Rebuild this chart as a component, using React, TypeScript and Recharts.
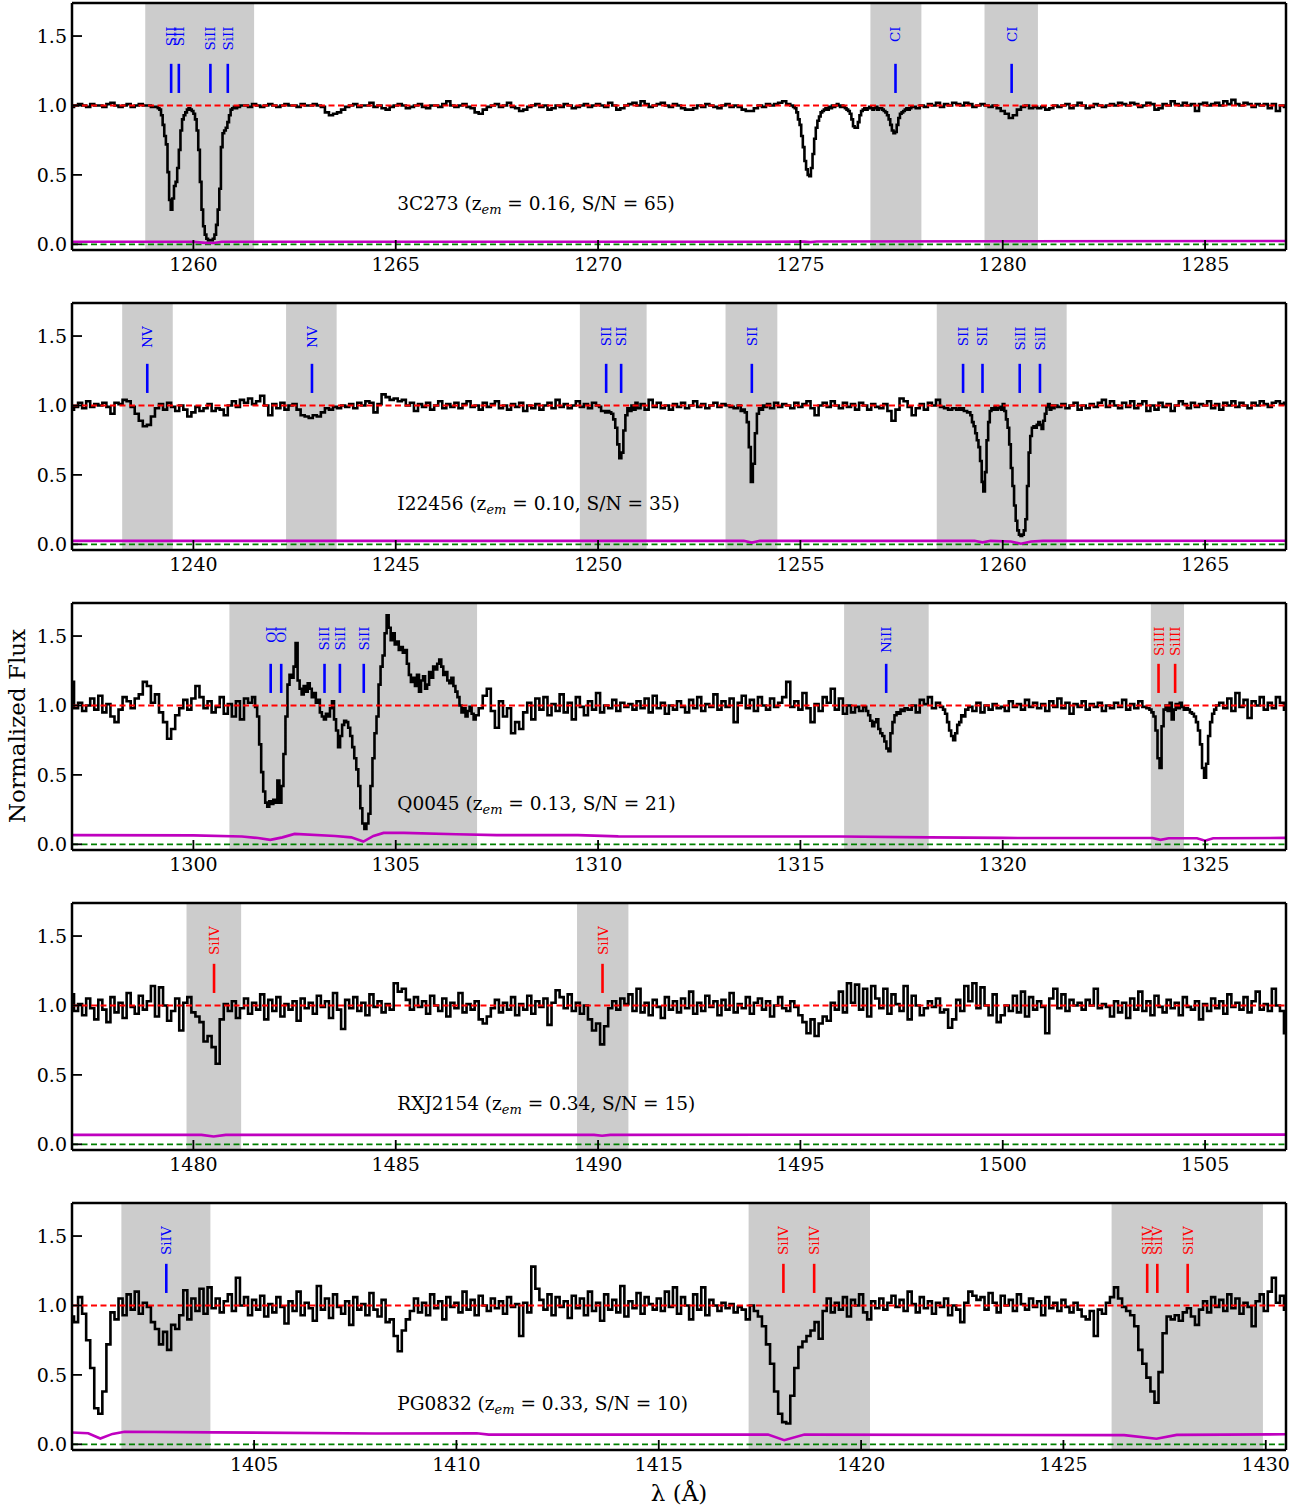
import React from "react";
import { ComposedChart, Line, XAxis, YAxis, ReferenceArea, ReferenceLine, ReferenceDot } from "recharts";

type Seg = { start: number; step: number; flux: number[] };
type Mark = { x: number; label: string; color: string };
type ErrPt = [number, number];

// ---------------- Panel 1 : 3C273 ----------------
const p1Name = "3C273", p1Z = "0.16", p1SN = "65";
const p1Domain: [number, number] = [1257, 1287];
const p1Ticks = [1260, 1265, 1270, 1275, 1280, 1285];
const p1Bands: [number, number][] = [[1258.81, 1261.5], [1276.73, 1277.99], [1279.55, 1280.87]];
const p1Marks: Mark[] = [
  { x: 1259.45, label: "SII", color: "#0000ff" }, { x: 1259.64, label: "SII", color: "#0000ff" },
  { x: 1260.42, label: "SiII", color: "#0000ff" }, { x: 1260.85, label: "SiII", color: "#0000ff" },
  { x: 1277.35, label: "CI", color: "#0000ff" }, { x: 1280.22, label: "CI", color: "#0000ff" },
];
const p1A: Seg = { start: 1257.0, step: 0.1, flux: [0.99,1.00,1.01,1.00,0.99,1.01,1.00,1.00,0.99,1.01,1.02,1.00,0.99,1.00,1.01,0.99,1.00,1.01,1.00,1.00,0.99] };
const p1B: Seg = { start: 1259.1, step: 0.04, flux: [0.99,0.98,0.97,0.93,0.86,0.78,0.72,0.52,0.32,0.25,0.33,0.42,0.45,0.55,0.68,0.82,0.90,0.93,0.95,0.97,0.98,0.97,0.96,0.94,0.90,0.82,0.68,0.45,0.25,0.13,0.07,0.04,0.03,0.03,0.03,0.04,0.07,0.14,0.25,0.40,0.70,0.80,0.82,0.84,0.88,0.93,0.97,0.98,0.99,0.98] };
const p1C: Seg = { start: 1261.1, step: 0.1, flux: [
  0.99,1.00,1.00,0.99,1.01,1.00,0.99,1.00,1.01,1.00,0.99,1.00,1.01,1.00,1.00,0.99,1.01,1.00,1.00,1.01,1.00,0.99,
  0.95,0.93,0.94,0.95,0.97,0.99,
  1.00,1.01,0.99,1.00,1.00,1.02,0.99,1.00,0.98,0.97,0.99,1.00,1.01,1.00,0.98,0.99,1.00,1.01,0.99,0.98,1.00,1.00,0.99,1.01,1.03,1.00,0.99,1.00,1.01,0.99,0.98,
  0.95,0.94,0.97,
  0.99,1.00,1.01,0.99,1.00,1.02,0.99,0.98,0.96,0.97,0.99,1.00,1.01,0.99,1.00,0.97,0.98,1.00,0.99,1.01,1.00,0.98,0.99,1.00,1.01,0.99,1.00,1.01,1.00,0.99,1.02,1.00,0.97,0.98,1.00,1.01,1.02,1.00,1.03,1.01,0.99,1.00,1.01,1.02,1.00,0.99,1.01,1.00,0.98,0.97,0.97,0.98,1.00,0.99,1.01,1.00,0.99,0.98,1.00,1.01,0.99,1.00,0.99,0.97,0.96,0.96,0.98,1.00,0.99,1.01,1.00,1.01,1.02,1.03,1.01] };
const p1D: Seg = { start: 1274.8, step: 0.04, flux: [
  1.00,0.99,0.98,0.95,0.90,
  0.86,0.78,0.70,0.60,0.54,0.50,0.49,0.55,0.65,0.76,0.84,0.89,0.92,0.95,0.96,0.97,0.98,0.97,0.99,0.98,1.00,0.99,1.00,1.01,1.00,
  0.99,1.00,0.99,0.98,0.97,0.96,0.94,0.90,0.85,0.84,0.84,0.88,0.93,0.96,0.97,0.98,0.97,0.98,0.99,0.98,0.97,0.98,0.99,0.97,0.98,
  0.98,0.97,0.96,0.95,0.93,0.90,0.86,0.82,0.80,0.81,0.86,0.91,0.94,0.95,0.96,0.97,0.98,0.97,0.98,0.99] };
const p1E: Seg = { start: 1277.8, step: 0.1, flux: [
  0.99,0.98,1.00,0.99,1.01,1.00,1.02,0.99,1.01,1.00,1.02,1.01,1.00,1.02,1.01,0.99,1.00,1.01,1.00,0.99,1.00,0.98,0.96,0.94,0.91,0.93,0.97,0.99,1.00,0.98,
  0.99,0.98,0.99,0.97,0.98,1.00,0.99,1.00,1.01,0.98,1.00,1.02,1.00,0.98,0.99,1.01,1.00,0.99,1.00,1.01,1.00,1.02,1.01,1.00,1.02,1.01,0.99,1.00,1.02,1.01,
  0.97,0.98,1.01,1.00,1.03,1.01,1.00,1.02,1.00,1.01,0.96,1.01,1.02,1.00,1.01,1.02,1.00,1.03,1.01,1.04,1.01,1.00,1.02,1.01,0.99,1.01,1.00,1.01,0.98,1.01,0.96,1.00,0.99] };
const p1Err: ErrPt[] = [[1257, 0.018], [1260.0, 0.018], [1260.3, 0.01], [1260.5, 0.01], [1260.7, 0.018], [1275.1, 0.019], [1275.25, 0.016], [1275.4, 0.02], [1287, 0.024]];

// ---------------- Panel 2 : I22456 ----------------
const p2Name = "I22456", p2Z = "0.10", p2SN = "35";
const p2Domain: [number, number] = [1237, 1267];
const p2Ticks = [1240, 1245, 1250, 1255, 1260, 1265];
const p2Bands: [number, number][] = [[1238.24, 1239.49], [1242.29, 1243.54], [1249.55, 1251.2], [1253.15, 1254.43], [1258.37, 1261.58]];
const p2Marks: Mark[] = [
  { x: 1238.86, label: "NV", color: "#0000ff" }, { x: 1242.93, label: "NV", color: "#0000ff" },
  { x: 1250.2, label: "SII", color: "#0000ff" }, { x: 1250.57, label: "SII", color: "#0000ff" },
  { x: 1253.8, label: "SII", color: "#0000ff" }, { x: 1259.02, label: "SII", color: "#0000ff" },
  { x: 1259.5, label: "SII", color: "#0000ff" }, { x: 1260.42, label: "SiII", color: "#0000ff" },
  { x: 1260.92, label: "SiII", color: "#0000ff" },
];
const p2A: Seg = { start: 1237.0, step: 0.1, flux: [
  0.97,0.99,1.02,0.98,1.03,0.99,1.01,1.00,1.02,0.99,
  0.94,1.02,1.01,1.04,1.03,0.99,0.94,0.89,0.85,0.86,
  0.92,0.98,1.01,0.97,1.02,0.99,0.96,1.00,0.97,0.92,
  0.95,0.99,0.96,0.98,1.01,0.96,0.98,0.97,0.93,1.00,
  1.03,0.99,1.04,1.02,1.05,1.01,1.03,1.07,1.00,0.93,
  1.01,0.98,1.02,0.97,1.00,1.01,0.97,0.93,0.92,0.91,
  0.93,0.92,0.95,0.98,0.97,0.99,0.98,1.00,0.99,1.01,
  0.98,1.02,1.00,1.03,1.02,0.95,1.01,1.08,1.06,1.04,
  1.05,1.03,1.04,1.00,1.02,0.96,1.01,0.99,1.02,0.97,
  1.00,1.03,0.98,1.01,0.99,1.02,0.98,1.01,1.03,0.99,
  1.00,0.97,1.02,0.99,1.01,1.03,0.98,1.00,0.97,1.01,
  0.99,1.02,0.96,1.00,0.98,1.01,0.97,1.00,1.02,0.98,
  1.04,0.99,1.01,0.98,1.00,1.03,0.99,1.01,0.98,1.02,
  1.00] };
const p2B: Seg = { start: 1250.05, step: 0.05, flux: [0.99,0.96,0.96,0.95,0.96,0.95,0.94,0.90,0.84,0.72,0.62,0.66,0.82,0.93,0.98,0.96,1.00,0.97,1.02] };
const p2C: Seg = { start: 1251.0, step: 0.1, flux: [0.98,1.01,0.97,1.04,0.99,1.02,0.98,1.00,0.97,1.01,0.99,1.02,0.98,1.00,1.03,0.99,1.01,0.98,1.00,1.02,0.99,1.01,1.00,0.99,0.98,1.00] };
const p2D: Seg = { start: 1253.55, step: 0.05, flux: [0.96,0.97,0.95,0.88,0.70,0.45,0.58,0.80,0.94,0.98,0.97,1.00,0.99] };
const p2E: Seg = { start: 1254.2, step: 0.1, flux: [
  1.01,0.98,1.02,0.99,1.01,1.00,0.98,1.02,
  0.99,1.01,1.03,0.98,0.93,1.00,1.02,0.99,1.03,1.00,
  0.98,1.02,0.99,1.01,0.97,1.02,1.00,0.97,1.01,0.99,
  0.98,1.01,0.96,0.89,0.97,1.05,1.03,0.99,0.93,0.98,
  1.01,0.97,1.02,1.00,1.04,0.99,0.98,0.97,0.98,0.97] };
const p2F: Seg = { start: 1258.94, step: 0.04, flux: [
  0.98,0.97,
  0.98,0.96,0.96,0.95,0.95,0.93,0.88,0.85,0.80,0.75,0.70,0.60,0.45,0.38,0.52,0.75,0.88,0.96,0.98,0.97,0.99,0.97,0.98,0.99,0.97,
  1.01,0.96,0.90,0.84,0.72,0.55,0.42,0.28,0.17,0.10,0.07,0.06,0.07,0.10,0.18,0.42,0.66,0.78,0.84,0.85,0.84,0.86,0.88,0.86,0.83,
  0.89,0.94,0.99,1.01,0.97,1.00,0.98,1.00] };
const p2G: Seg = { start: 1261.4, step: 0.1, flux: [
  0.99,1.01,0.98,1.00,1.02,0.97,
  1.00,0.98,1.01,0.99,1.02,1.04,0.99,1.03,1.00,0.98,
  1.02,0.99,1.03,0.98,1.01,1.03,0.96,1.00,0.97,1.02,
  0.99,1.01,0.96,1.00,1.03,1.01,0.98,1.02,0.99,1.01,
  1.00,1.03,0.98,1.01,0.97,1.02,1.00,1.03,0.99,1.02,
  1.00,0.98,1.02,1.00,1.03,1.01,0.99,1.02,1.03,1.01,
  1.02] };
const p2Err: ErrPt[] = [[1237, 0.025], [1253.6, 0.025], [1253.8, 0.012], [1254.0, 0.025], [1259.3, 0.025], [1259.5, 0.014], [1259.7, 0.025], [1260.2, 0.02], [1260.45, 0.004], [1260.7, 0.02], [1261.0, 0.025], [1267, 0.026]];

// ---------------- Panel 3 : Q0045 ----------------
const p3Name = "Q0045", p3Z = "0.13", p3SN = "21";
const p3Domain: [number, number] = [1297, 1327];
const p3Ticks = [1300, 1305, 1310, 1315, 1320, 1325];
const p3Bands: [number, number][] = [[1300.89, 1307.01], [1316.08, 1318.17], [1323.66, 1324.48]];
const p3Marks: Mark[] = [
  { x: 1301.91, label: "OI", color: "#0000ff" }, { x: 1302.17, label: "OI", color: "#0000ff" },
  { x: 1303.24, label: "SiII", color: "#0000ff" }, { x: 1303.62, label: "SiII", color: "#0000ff" },
  { x: 1304.21, label: "SiII", color: "#0000ff" }, { x: 1317.12, label: "NiII", color: "#0000ff" },
  { x: 1323.85, label: "SiIII", color: "#ff0000" }, { x: 1324.26, label: "SiIII", color: "#ff0000" },
];
const p3A: Seg = { start: 1297.0, step: 0.1, flux: [
  1.17,0.98,1.02,0.96,1.00,1.05,0.97,1.07,0.95,1.01,
  0.92,0.88,0.97,1.06,1.03,0.98,1.05,1.08,1.17,1.14,
  1.02,1.08,0.95,0.88,0.76,0.83,0.93,0.98,1.04,0.97,
  1.05,1.14,1.06,0.98,1.03,0.95,0.99,1.06,0.94,1.01,
  0.92,1.03,0.90,1.05,1.02,1.06] };
const p3B: Seg = { start: 1301.55, step: 0.05, flux: [
  0.99,0.92,0.72,0.52,0.38,0.30,0.27,0.31,0.29,
  0.32,0.30,0.46,0.30,0.42,0.65,0.92,1.15,1.22,1.20,1.28,1.45,1.18,1.12,1.08,1.14,1.10,1.16,1.12,1.06,
  1.09,1.02,1.04,0.95,0.92,0.90,0.94,0.92,0.98,1.03,0.90,0.82,0.70,0.78,0.86,0.89,0.88,0.84,0.78,0.70,
  0.62,0.54,0.42,0.26,0.15,0.11,0.15,0.22,0.42,0.62,0.80,0.92,1.15,1.28,1.36,1.52,1.65,1.56,1.47,1.52,
  1.44,1.46,1.40,1.42,1.38,1.40,1.30,1.22,1.17,1.20,1.14,1.22,1.10,1.18,1.21,1.12,1.15,1.24,1.20,1.28,
  1.26,1.30,1.33,1.28,1.22,1.24,1.18,1.16,1.20,1.14,1.10,1.06,1.00,0.95,0.98,0.92,0.96,0.99,0.94,0.90,
  0.93] };
const p3C: Seg = { start: 1307.1, step: 0.1, flux: [
  0.98,1.07,1.12,0.96,0.84,1.03,0.92,0.98,0.80,
  0.88,0.83,0.95,1.02,0.90,1.05,0.97,1.06,0.93,1.01,
  0.96,1.08,0.95,1.02,0.90,1.06,0.99,0.93,1.03,0.97,
  1.09,0.95,1.00,0.98,1.04,0.96,1.02,0.99,1.01,0.97,
  1.03,0.98,1.05,0.95,1.07,0.98,1.02,0.94,1.00,0.97,
  1.03,0.99,0.95,1.04,0.98,1.06,0.96,1.01,0.99,1.08,
  0.97,1.03,0.99,1.05,0.88,1.02,1.07,0.98,1.04,0.96,
  1.06,1.00,0.97,1.05,0.99,1.02,1.06,1.17,0.99,1.03,
  0.97,1.09,0.98,0.88,1.01,0.96,1.06,1.02,1.12,0.97,
  1.05,0.94,1.00,0.95,0.99,0.96,0.99] };
const p3D: Seg = { start: 1316.65, step: 0.05, flux: [0.96,0.93,0.89,0.85,0.88,0.90,0.83,0.80,0.78,0.74,0.69,0.67,0.80,0.88,0.93,0.95,0.94,0.97,0.96,0.98] };
const p3E: Seg = { start: 1317.7, step: 0.1, flux: [0.97,1.00,0.95,1.04,1.01,1.06,0.98,1.02,0.99] };
const p3F: Seg = { start: 1318.55, step: 0.05, flux: [0.97,0.94,0.88,0.82,0.78,0.75,0.80,0.86,0.88,0.93,0.92,0.97] };
const p3G: Seg = { start: 1319.2, step: 0.1, flux: [
  0.99,0.96,1.02,0.95,1.00,0.97,1.01,0.98,
  0.99,0.96,1.03,0.99,1.01,0.97,1.04,0.99,1.02,0.98,
  1.01,0.96,1.03,0.99,1.05,0.98,1.02,0.94,1.01,0.99,
  1.03,0.97,1.01,0.99,1.02,0.96,1.00,0.98,1.02,0.99,
  1.04,0.97,1.01,0.98,1.03,0.99,0.98] };
const p3H: Seg = { start: 1323.65, step: 0.05, flux: [
  0.97,0.95,0.92,0.82,0.62,0.55,0.85,
  0.97,1.00,0.96,1.02,0.90,0.97,1.01,0.98,1.02,0.99,0.97,0.98,0.97,0.95,0.94,0.92,0.88,0.82,0.72,0.55,
  0.48,0.58,0.78,0.88,0.94,0.97,1.00] };
const p3I: Seg = { start: 1325.4, step: 0.1, flux: [1.02,0.98,1.05,0.96,1.09,0.99,1.04,0.91,1.03,1.00,1.06,0.97,1.02,0.98,1.06,1.02,0.97] };
const p3Err: ErrPt[] = [[1297, 0.066], [1300, 0.064], [1301.2, 0.056], [1301.6, 0.045], [1301.9, 0.032], [1302.2, 0.05], [1302.5, 0.075], [1303.5, 0.06], [1303.9, 0.05], [1304.2, 0.02], [1304.45, 0.06], [1304.7, 0.082], [1305.2, 0.082], [1306.5, 0.072], [1307.5, 0.066], [1309.5, 0.066], [1310.5, 0.057], [1316, 0.056], [1318.2, 0.05], [1320, 0.046], [1323.7, 0.045], [1323.9, 0.032], [1324.1, 0.044], [1324.8, 0.044], [1325.0, 0.026], [1325.2, 0.044], [1327, 0.046]];

// ---------------- Panel 4 : RXJ2154 ----------------
const p4Name = "RXJ2154", p4Z = "0.34", p4SN = "15";
const p4Domain: [number, number] = [1477, 1507];
const p4Ticks = [1480, 1485, 1490, 1495, 1500, 1505];
const p4Bands: [number, number][] = [[1479.83, 1481.18], [1489.48, 1490.75]];
const p4Marks: Mark[] = [
  { x: 1480.51, label: "SiIV", color: "#ff0000" }, { x: 1490.11, label: "SiIV", color: "#ff0000" },
];
const p4A: Seg = { start: 1477.0, step: 0.1, flux: [
  1.08,0.96,1.01,0.93,1.05,0.98,0.90,1.04,0.97,0.88,
  1.06,0.95,1.02,0.91,1.09,0.99,0.94,1.07,0.97,1.03,
  1.14,0.92,1.13,1.00,0.89,0.96,1.05,0.82,1.02,1.06,
  0.95,0.92,0.88,0.74,0.78,0.70,0.58,0.90,1.01,0.96,
  1.03,0.91,0.98,1.05,0.94,1.02,0.97,1.08,0.90,1.04,
  0.96,1.06,0.92,1.01,0.97,1.03,0.89,1.05,0.98,1.02,
  0.94,1.07,0.99,1.03,0.91,1.09,0.97,0.83,1.04,0.98,
  1.06,0.96,1.02,0.93,1.08,0.99,1.03,0.95,1.01,0.97,
  1.16,1.10,1.12,1.04,0.97,1.06,0.99,1.03,0.94,1.07,
  1.00,0.96,1.05,0.92,1.02,0.98,1.09,0.95,1.01,0.97,
  1.03,0.90,0.87,0.92,0.98,1.04,0.95,1.02,0.97,1.06,
  0.93,1.01,0.97,1.07,0.94,1.03,0.99,1.05,0.86,1.02,
  1.11,1.06,0.98,1.08,0.96,1.02,0.94,1.00,0.90,0.82,
  0.87,0.72,0.85,0.98,1.03,0.97,1.05,1.01,1.08,0.96,
  1.12,0.95,1.02,0.93,1.04,0.99,0.91,1.06,0.97,1.03,
  0.95,1.05,0.98,1.10,0.94,1.02,0.96,1.07,0.99,1.03,
  0.93,1.04,0.97,1.09,0.95,1.01,0.98,1.06,0.94,1.02,
  1.05,0.97,1.03,0.92,1.00,1.06,0.98,0.96,1.03,0.99,
  0.93,0.88,0.80,0.90,0.78,0.87,0.92,0.89,1.02,0.97,
  1.10,0.95,1.16,1.02,1.15,0.97,1.12,0.92,1.14,1.05,
  0.98,1.12,0.94,1.08,1.01,0.96,1.14,0.90,1.07,1.00,
  0.93,0.98,1.03,0.99,1.05,0.95,0.97,0.84,0.90,1.04,
  0.96,1.14,1.03,1.16,0.98,1.13,1.00,0.93,1.08,0.88,
  0.93,1.00,0.96,1.07,0.95,1.10,0.92,1.06,0.97,1.03,
  0.99,0.80,1.05,1.12,0.98,1.08,0.96,1.04,1.00,1.02,
  0.97,1.04,1.00,1.12,0.98,1.01,0.99,0.92,1.03,0.95,
  1.02,0.91,1.05,0.97,1.10,0.96,1.03,0.93,1.07,0.99,
  0.95,1.04,0.98,1.02,0.93,1.06,0.99,0.97,1.03,0.90,
  1.01,0.96,1.05,0.98,1.03,0.94,1.08,0.99,1.02,0.97,
  1.06,0.95,1.03,1.10,0.97,1.01,0.96,1.12,1.00,0.96,
  0.80] };
const p4Err: ErrPt[] = [[1477, 0.068], [1480.2, 0.068], [1480.5, 0.056], [1480.8, 0.068], [1489.9, 0.068], [1490.1, 0.062], [1490.3, 0.068], [1507, 0.07]];

// ---------------- Panel 5 : PG0832 ----------------
const p5Name = "PG0832", p5Z = "0.33", p5SN = "10";
const p5Domain: [number, number] = [1400.5, 1430.5];
const p5Ticks = [1405, 1410, 1415, 1420, 1425, 1430];
const p5Bands: [number, number][] = [[1401.72, 1403.92], [1417.22, 1420.22], [1426.19, 1429.93]];
const p5Marks: Mark[] = [
  { x: 1402.83, label: "SiIV", color: "#0000ff" },
  { x: 1418.08, label: "SiIV", color: "#ff0000" }, { x: 1418.84, label: "SiIV", color: "#ff0000" },
  { x: 1427.07, label: "SiIV", color: "#ff0000" }, { x: 1427.32, label: "SiIV", color: "#ff0000" },
  { x: 1428.07, label: "SiIV", color: "#ff0000" },
];
const p5A: Seg = { start: 1400.5, step: 0.1, flux: [
  0.92,0.88,1.06,0.94,0.75,
  0.55,0.26,0.22,0.38,0.72,0.95,0.90,1.05,0.93,1.08,
  0.97,1.10,0.94,1.02,0.99,0.88,0.83,0.72,0.81,0.68,
  0.86,0.83,0.93,1.11,0.90,1.05,0.96,1.12,0.94,1.13,
  0.98,1.05,0.95,1.03,1.08,0.96,1.20,1.00,1.06,0.93,
  1.04,0.97,1.07,0.92,1.01,0.95,1.06,0.99,0.87,1.03,
  0.96,1.10,0.93,1.02,0.98,0.89,1.14,0.97,1.05,0.91,
  1.08,0.99,0.94,1.03,0.86,1.06,0.97,1.01,0.93,1.09,
  0.97,0.92,1.04,0.88,0.90,0.78,0.67,0.82,0.90,0.96,
  1.05,0.95,1.02,0.93,1.08,0.98,1.03,0.90,1.06,0.99,
  1.02,0.95,1.10,0.97,1.04,0.93,1.07,1.00,0.96,1.05,
  0.98,1.03,0.94,1.06,0.99,1.01,0.78,1.02,0.95,1.28,
  1.12,1.04,0.97,1.08,0.93,1.06,0.99,1.03,0.91,1.07,
  0.98,1.05,0.93,1.10,0.96,1.02,0.89,1.08,0.97,1.04,
  0.95,1.14,0.92,1.03,0.98,1.09,0.94,1.06,1.01,0.97,
  1.05,0.96,1.10,0.99,1.13,0.94,1.06,1.00,0.90,1.08,
  0.97,1.13,0.93,1.04,1.00,0.96,1.02,0.98,1.01,0.95,
  0.99,0.97,0.90,1.00,0.96,0.92,0.85,0.72,0.58,0.38,
  0.22,0.16,0.15,0.35,0.55,0.70,0.74,0.78,0.82,0.88,
  0.76,0.96,1.05,0.95,1.02,0.97,1.06,0.92,1.04,1.00,
  1.08,0.95,0.90,1.03,0.98,1.05,0.97,1.02,1.07,0.99,
  1.04,0.96,1.10,1.01,0.95,1.06,0.98,1.03,0.94,1.02,
  0.99,1.05,0.93,1.00,0.97,0.88,1.02,1.10,1.07,1.04,
  1.06,0.97,1.09,1.02,0.95,1.07,1.00,1.04,0.96,1.08,
  1.01,0.97,1.05,0.99,1.03,0.93,1.06,0.98,1.02,0.96,
  1.04,0.99,0.95,1.02,0.97,0.92,0.90,0.96,0.78,0.97,
  0.94,1.02,1.06,1.13,1.05,0.99,0.96,0.93,0.85,0.68,
  0.58,0.48,0.38,0.30,0.52,0.80,0.92,0.90,0.93,0.89,
  0.95,0.98,0.92,0.86,0.97,1.03,0.95,1.06,0.99,1.04,
  0.96,1.08,0.98,1.05,0.94,1.02,0.99,0.85,1.03,1.08,
  0.96,1.10,1.20,1.02,1.07,0.97] };
const p5Err: ErrPt[] = [[1400.5, 0.085], [1400.9, 0.08], [1401.2, 0.042], [1401.5, 0.075], [1401.8, 0.09], [1404, 0.086], [1408, 0.078], [1410.5, 0.08], [1410.8, 0.07], [1417.7, 0.07], [1418.1, 0.03], [1418.6, 0.07], [1426.5, 0.066], [1427.3, 0.04], [1427.8, 0.068], [1430.5, 0.072]];

// ---------------- chart ----------------
const FONT = "'DejaVu Serif', serif";
const Y_DOMAIN: [number, number] = [-0.041, 1.738];
const Y_TICKS = [0, 0.5, 1.0, 1.5];

function expand(segs: Seg[]) {
  const out: { x: number; f: number }[] = [];
  segs.forEach((s) => s.flux.forEach((f, i) => out.push({ x: Math.round((s.start + i * s.step) * 1000) / 1000, f })));
  return out;
}

type PanelCfg = {
  name: string; z: string; sn: string; domain: [number, number]; ticks: number[];
  bands: [number, number][]; marks: Mark[]; segs: Seg[]; err: ErrPt[];
};

const panels: PanelCfg[] = [
  { name: p1Name, z: p1Z, sn: p1SN, domain: p1Domain, ticks: p1Ticks, bands: p1Bands, marks: p1Marks, segs: [p1A, p1B, p1C, p1D, p1E], err: p1Err },
  { name: p2Name, z: p2Z, sn: p2SN, domain: p2Domain, ticks: p2Ticks, bands: p2Bands, marks: p2Marks, segs: [p2A, p2B, p2C, p2D, p2E, p2F, p2G], err: p2Err },
  { name: p3Name, z: p3Z, sn: p3SN, domain: p3Domain, ticks: p3Ticks, bands: p3Bands, marks: p3Marks, segs: [p3A, p3B, p3C, p3D, p3E, p3F, p3G, p3H, p3I], err: p3Err },
  { name: p4Name, z: p4Z, sn: p4SN, domain: p4Domain, ticks: p4Ticks, bands: p4Bands, marks: p4Marks, segs: [p4A], err: p4Err },
  { name: p5Name, z: p5Z, sn: p5SN, domain: p5Domain, ticks: p5Ticks, bands: p5Bands, marks: p5Marks, segs: [p5A], err: p5Err },
];

const axisLine = { stroke: "#000", strokeWidth: 2.5 };
const tickLine = { stroke: "#000", strokeWidth: 1.8 };
const tickStyle = { fontFamily: FONT, fontSize: 19, fill: "#000" };

function Panel({ cfg }: { cfg: PanelCfg }) {
  const flux = expand(cfg.segs);
  const err = cfg.err.map(([x, e]) => ({ x, e }));
  const textX = cfg.domain[0] + 0.268 * (cfg.domain[1] - cfg.domain[0]);
  return (
    <ComposedChart width={1312} height={300} margin={{ top: 2, right: 25, bottom: 0, left: 0 }}>
      <XAxis xAxisId={0} dataKey="x" type="number" domain={cfg.domain} allowDataOverflow ticks={cfg.ticks}
        orientation="bottom" height={50} axisLine={axisLine} tickLine={tickLine} tickSize={-10} tickMargin={18}
        tick={tickStyle} interval={0} />
      <XAxis xAxisId="top" dataKey="x" type="number" domain={cfg.domain} allowDataOverflow ticks={cfg.ticks}
        orientation="top" height={1} axisLine={axisLine} tickLine={tickLine} tickSize={-10} tick={false} interval={0} />
      <YAxis yAxisId={0} type="number" domain={Y_DOMAIN} allowDataOverflow ticks={Y_TICKS} width={72}
        axisLine={axisLine} tickLine={tickLine} tickSize={-10} tickMargin={15} interval={0}
        tick={tickStyle} tickFormatter={(v: number) => v.toFixed(1)} />
      <YAxis yAxisId="r" orientation="right" type="number" domain={Y_DOMAIN} allowDataOverflow ticks={Y_TICKS} width={1}
        axisLine={axisLine} tickLine={tickLine} tickSize={-10} tick={false} interval={0} />
      {cfg.bands.map(([a, b], i) => (
        <ReferenceArea key={"b" + i} x1={a} x2={b} y1={Y_DOMAIN[0]} y2={Y_DOMAIN[1]} fill="#cccccc" fillOpacity={1} stroke="none" ifOverflow="hidden" />
      ))}
      <ReferenceLine y={0} stroke="#008000" strokeWidth={1.8} strokeDasharray="6 3.5" />
      <Line data={err} dataKey="e" type="linear" stroke="#bf00bf" strokeWidth={2.6} dot={false} isAnimationActive={false} />
      <Line data={flux} dataKey="f" type="step" stroke="#000" strokeWidth={2.6} dot={false} isAnimationActive={false} />
      <ReferenceLine y={1} stroke="#ff0000" strokeWidth={2} strokeDasharray="6 3.5" />
      {cfg.marks.map((m, i) => (
        <ReferenceLine key={"m" + i} segment={[{ x: m.x, y: 1.09 }, { x: m.x, y: 1.3 }]} stroke={m.color} strokeWidth={2.6} />
      ))}
      {cfg.marks.map((m, i) => (
        <ReferenceDot key={"l" + i} x={m.x} y={1.57} r={0}
          shape={(p: any) => (
            <text x={p.cx} y={p.cy} transform={`rotate(-90 ${p.cx} ${p.cy})`} textAnchor="end" dominantBaseline="central"
              fontFamily={FONT} fontSize={13.5} fill={m.color}>{m.label}</text>
          )} />
      ))}
      <ReferenceDot x={textX} y={0.28} r={0}
        shape={(p: any) => (
          <text x={p.cx} y={p.cy} dominantBaseline="middle" fontFamily={FONT} fontSize={18.5} fill="#000">
            {cfg.name} (z<tspan fontStyle="italic" fontSize={13} dy={5}>em</tspan><tspan dy={-5}>{` = ${cfg.z}, S/N = ${cfg.sn})`}</tspan>
          </text>
        )} />
    </ComposedChart>
  );
}

export default function App() {
  return (
    <div style={{ position: "absolute", left: 0, top: 0, width: 1312, height: 1508, background: "#fff", overflow: "hidden" }}>
      {panels.map((cfg, i) => (
        <div key={i} style={{ position: "absolute", left: 0, top: 300 * i, width: 1312, height: 300 }}>
          <Panel cfg={cfg} />
        </div>
      ))}
      <svg width={1312} height={1508} style={{ position: "absolute", left: 0, top: 0, pointerEvents: "none" }}>
        <text x={17} y={726} transform="rotate(-90 17 726)" textAnchor="middle" dominantBaseline="central"
          fontFamily={FONT} fontSize={23} fill="#000">Normalized Flux</text>
        <text x={679} y={1493} textAnchor="middle" dominantBaseline="central" fontFamily={FONT} fontSize={23} fill="#000">λ (Å)</text>
      </svg>
    </div>
  );
}
